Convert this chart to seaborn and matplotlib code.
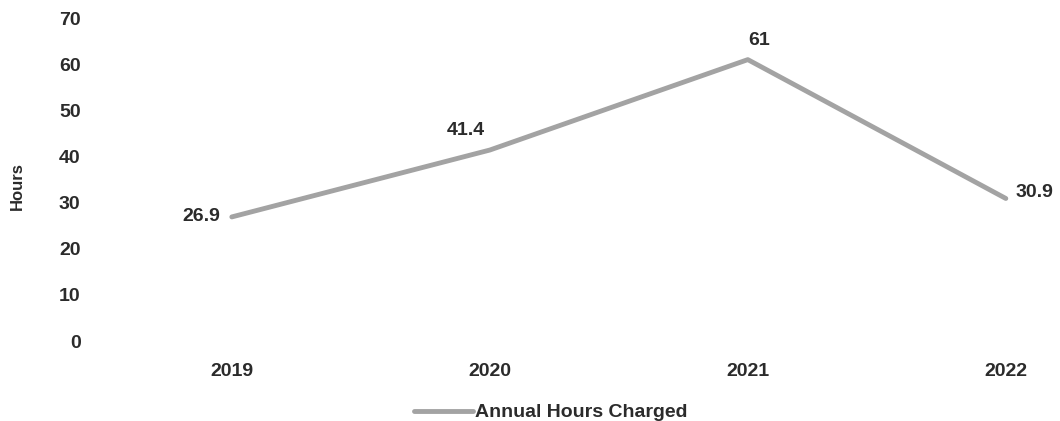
import matplotlib
matplotlib.use("Agg")
import matplotlib.pyplot as plt
import seaborn as sns
import pandas as pd

years = ["2019", "2020", "2021", "2022"]
hours = [26.9, 41.4, 61, 30.9]
series_name = "Annual Hours Charged"
y_ticks = [0, 10, 20, 30, 40, 50, 60, 70]

sns.set_theme(style="white")
plt.rcParams['font.family'] = ['Liberation Sans', 'DejaVu Sans']

df = pd.DataFrame({"Year": years, "Hours": hours})

fig = plt.figure(figsize=(10.6, 4.21), dpi=100)
ax = fig.add_axes([0.097, 0.19, 0.903, 0.767])

sns.lineplot(data=df, x="Year", y="Hours", ax=ax, color="#a3a3a3", linewidth=3.5,
             label=series_name, sort=False)

ax.set_ylim(0, 70)
ax.set_yticks(y_ticks)
ax.set_xlim(-0.5, 3.21)
text_color = "#2b2b2b"
ax.tick_params(axis="both", length=0, labelsize=14, labelcolor=text_color)
ax.tick_params(axis="x", pad=16)
ax.tick_params(axis="y", pad=16)
for lbl in ax.get_xticklabels() + ax.get_yticklabels():
    lbl.set_fontweight("bold")
ax.set_xlabel("")
ax.set_ylabel("Hours", fontsize=12, fontweight="bold", color=text_color)
ax.yaxis.set_label_coords(-0.081, 0.48)
for s in ax.spines.values():
    s.set_visible(False)

offsets = [(-8, 0, "right", "center"), (-17, 8, "center", "bottom"),
           (8, 8, "center", "bottom"), (7, 4, "left", "center")]
for i, (v, (dx, dy, ha, va)) in enumerate(zip(hours, offsets)):
    ax.annotate(f"{v:g}", (i, v), xytext=(dx, dy), textcoords="offset points",
                ha=ha, va=va, fontsize=14, fontweight="bold", color=text_color)

leg = ax.legend(loc="upper center", bbox_to_anchor=(0.468, -0.14), frameon=False,
                prop={"size": 14, "weight": "bold"}, handlelength=3.0, handletextpad=0.1)
for t in leg.get_texts():
    t.set_color(text_color)

fig.savefig("out.png", dpi=100)
